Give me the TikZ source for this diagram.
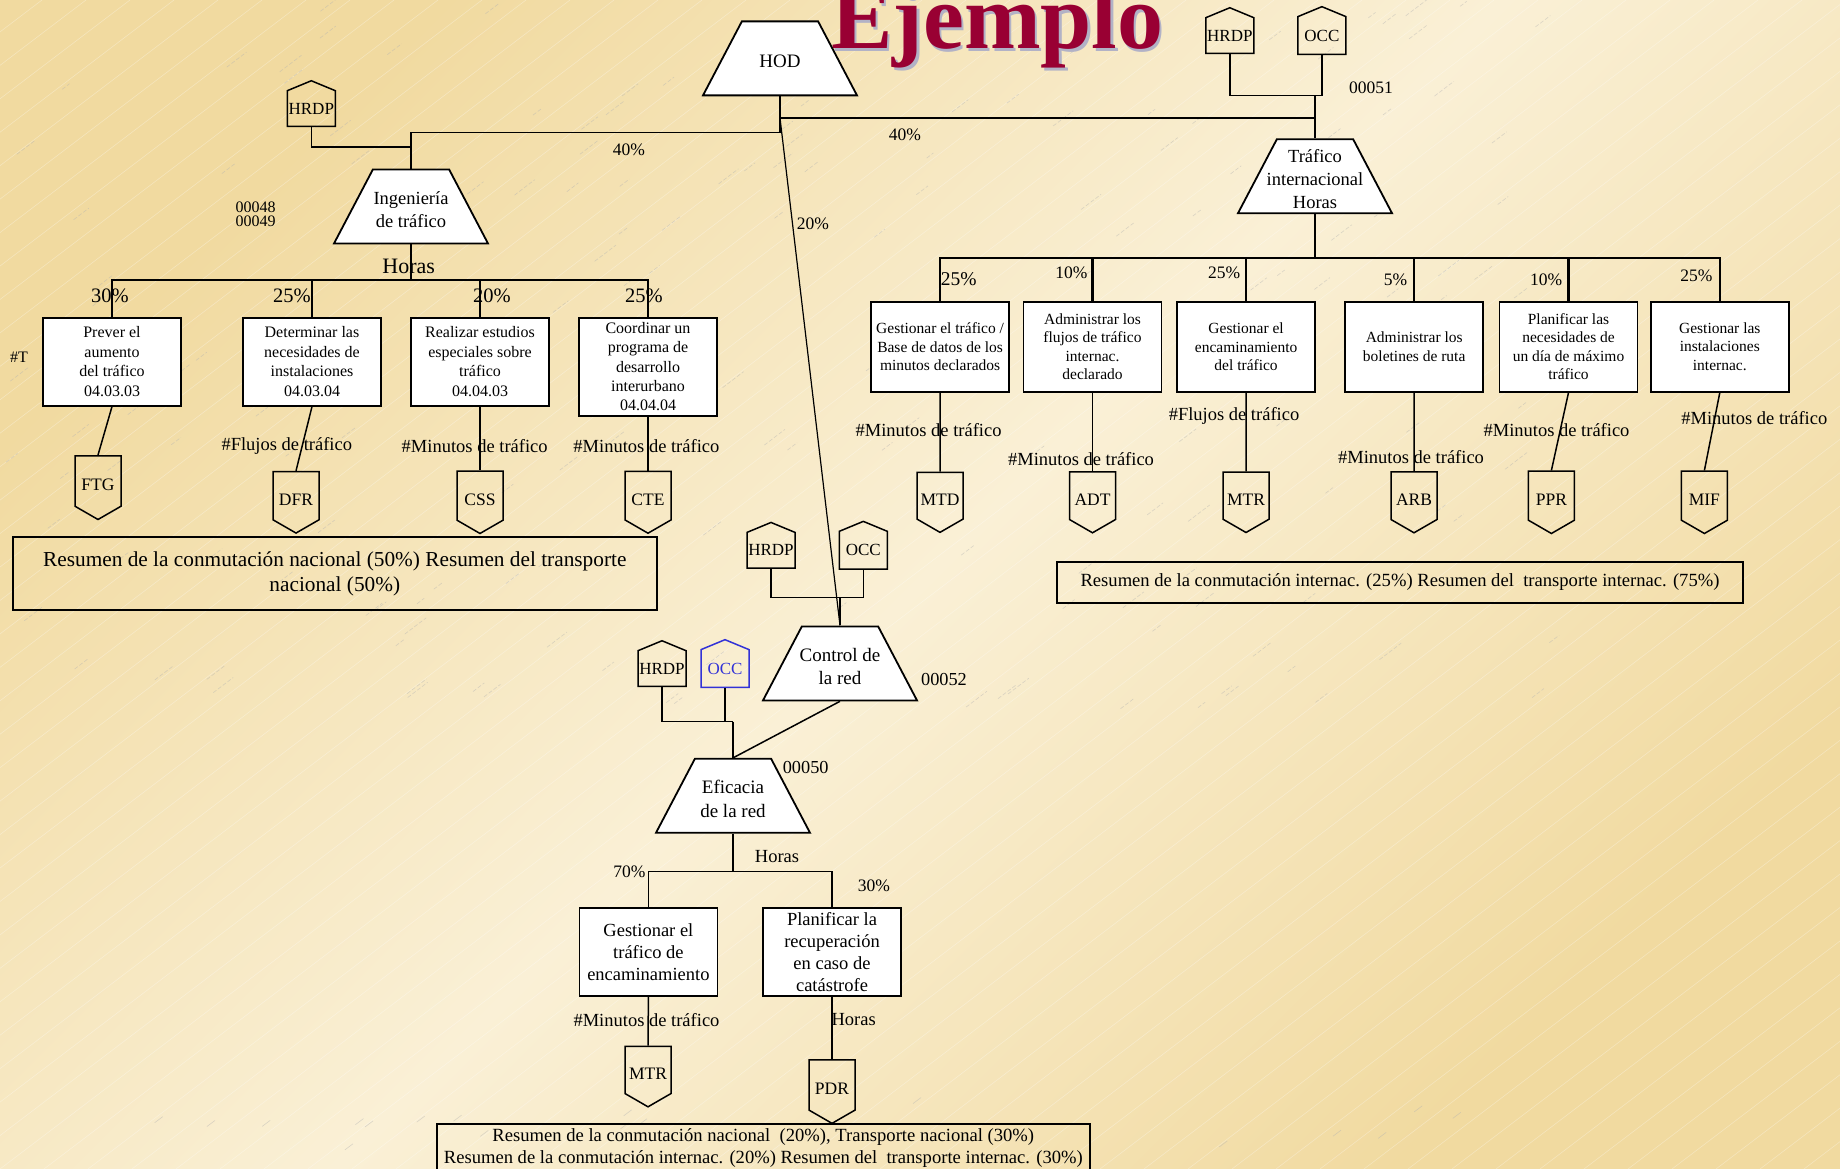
\documentclass[tikz,border=0pt]{standalone}
\usepackage{fontspec}
\setmainfont{Liberation Serif}
\usetikzlibrary{shapes.geometric,shapes.symbols}

\definecolor{fondoclaro}{RGB}{250,240,214}
\definecolor{fondooscuro}{RGB}{241,218,160}
\definecolor{rojotitulo}{RGB}{153,0,51}
\definecolor{sombratitulo}{RGB}{178,178,198}
\definecolor{azulocc}{RGB}{50,50,215}

\pgfdeclarehorizontalshading{fondodiag}{100bp}{color(0bp)=(fondooscuro); color(25bp)=(fondooscuro); color(50bp)=(fondoclaro); color(75bp)=(fondooscuro); color(100bp)=(fondooscuro)}

\newcommand{\tam}[2]{\fontsize{#1}{#2}\selectfont}

\begin{document}
\begin{tikzpicture}[x=1pt, y=-1pt,
    every node/.style={inner sep=0pt},
    linea/.style={line width=1.5pt},
    bus/.style={line width=2.2pt},
    borde/.style={draw, line width=1.8pt},
    caja/.style={borde, fill=white, align=center, minimum width=138pt,
      minimum height=88pt, font=\tam{16}{19.5}},
    cajad/.style={caja, minimum height=90pt, font=\tam{15.5}{18.6}},
    cajab/.style={caja, font=\tam{18.5}{22}},
    trap/.style={trapezium, borde, fill=white, inner sep=2pt, trapezium left angle=63,
      trapezium right angle=63, trapezium stretches=true, minimum width=154pt,
      minimum height=74pt},
    trapt/.style={align=center, inner sep=0pt, font=\tam{18.5}{22.5}, yshift=-3pt},
    etiq/.style={signal, signal to=south, signal from=nowhere,
      signal pointer angle=120, draw, line width=1.5pt, minimum width=46pt,
      minimum height=58pt, text height=19pt, text depth=0pt, font=\tam{17.5}{20}},
    casa/.style={signal, signal to=north, signal from=nowhere,
      signal pointer angle=135, draw, line width=1.5pt, minimum width=48pt,
      minimum height=45pt, font=\tam{17}{20}},
    pct/.style={font=\tam{17.5}{20}},
    pctg/.style={font=\tam{20.5}{24}},
    medida/.style={font=\tam{18.5}{22}},
    codigo/.style={font=\tam{17.5}{20}},
    resumen/.style={borde, align=center, font=\tam{18.6}{21.7}}
  ]
    \useasboundingbox (0,0) rectangle (1840,1169);

    % Fondo
    \shade[shading=fondodiag, shading angle=-45] (0,0) rectangle (1840,1169);
    \foreach \k in {-35,...,42}
        \draw[white, opacity=0.3, line width=0.6pt] (\k*44,1169) -- ++(1538,-1169);
    \pgfmathsetseed{12}
    \foreach \i in {1,...,170}{
        \pgfmathsetmacro{\sx}{rnd*1560}
        \pgfmathsetmacro{\sy}{rnd*720}
        \pgfmathsetmacro{\sl}{6+rnd*16}
        \draw[black!30, opacity=0.45, line width=0.6pt, dash pattern=on 4pt off 2pt] (\sx,\sy) -- ++(\sl,-0.76*\sl);
    }
    \foreach \i in {1,...,18}{
        \pgfmathsetmacro{\sx}{130+rnd*1370}
        \pgfmathsetmacro{\sy}{1100+rnd*50}
        \draw[black!30, opacity=0.45, line width=0.6pt] (\sx,\sy) -- ++(8,-6);
    }

    % Titulo
    \node[font=\bfseries\tam{92}{92}, text=sombratitulo, anchor=base west] (sombra) at (833.5,51.5) {Ejemplo};
    \node[font=\bfseries\tam{92}{92}, text=rojotitulo, anchor=base west] (titulo) at (831,49) {Ejemplo};

    % Nivel superior
    \node[trap, label={[trapt, font=\tam{19}{22}]center:HOD}] (hod) at (780,58.4) {};
    \node[casa] (hrdpA) at (311.3,108.5) {HRDP};
    \node[casa] (hrdpB) at (1229.8,35.5) {HRDP};
    \node[casa] (occB) at (1321.9,35.5) {OCC};
    \node[codigo] (cod51) at (1371,88) {00051};

    % Ingenieria de trafico
    \node[trap, label={[trapt]center:Ingeniería\\de tráfico}] (ing) at (411,206.5) {};
    \node[codigo, font=\tam{16}{14}, align=center] (cod48) at (255.5,214.7) {00048\\00049};
    \draw[linea] (hod.south) -- ++(0,36) -| (ing.north);
    \draw[linea] (hrdpA.south) |- (ing.north |- 0,147);
    \node[pct] (p40a) at (629,150) {40\%};

    % Trafico internacional
    \node[trap, label={[trapt, font=\tam{18.5}{23}]center:Tráfico\\internacional\\Horas}] (traf) at (1315,176.2) {};
    \coordinate (jT) at (traf.north |- 0,95.7);
    \draw[linea] (hrdpB.south) |- (jT) -| (occB.south);
    \draw[linea] (jT) -- (traf.north);
    \draw[linea] (hod.south) ++(0,21.6) -| (traf.north);
    \node[pct] (p40b) at (905,135) {40\%};

    % Control de la red
    \node[trap, label={[trapt, font=\tam{19}{22.5}]center:Control de\\la red}] (ctl) at (840,663.4) {};
    \draw[line width=1.2pt] (hod.south) ++(0,21.6) -- (ctl.north);
    \node[pct] (p20) at (813,224) {20\%};
    \node[casa] (hrdpC) at (771,550.2) {HRDP};
    \node[casa] (occC) at (863.3,550.2) {OCC};
    \coordinate (jC) at (ctl.north |- 0,597.7);
    \draw[linea] (hrdpC.south) |- (jC) -| (occC.south);
    \draw[linea] (jC) -- (ctl.north);
    \node[codigo, font=\tam{18.3}{20}] (cod52) at (944,679.3) {00052};

    % Hijos de Ingenieria
    \draw[linea] (ing.south) -- ++(0,35.6) coordinate (busI);
    \node[medida, font=\tam{22}{24}] (horasI) at (408.7,266.7) {Horas};
    \node[caja] (prever) at (112,361.7) {Prever el\\aumento\\del tráfico\\04.03.03};
    \node[caja] (determinar) at (312,361.7) {Determinar las\\necesidades de\\instalaciones\\04.03.04};
    \node[caja] (realizar) at (480,361.7) {Realizar estudios\\especiales sobre\\tráfico\\04.04.03};
    \node[caja, minimum height=98pt, font=\tam{16}{19.4}] (coordinar) at (648,366.7) {Coordinar un\\programa de\\desarrollo\\interurbano\\04.04.04};
    \foreach \c in {prever,determinar,realizar,coordinar}
        \draw[linea] (busI) -| (\c.north);
    \node[pctg] (pI1) at (110,296) {30\%};
    \node[pctg] (pI2) at (292,296) {25\%};
    \node[pctg] (pI3) at (492,296) {20\%};
    \node[pctg] (pI4) at (644,296) {25\%};
    \node[font=\tam{16}{18}] (almT) at (19,357.7) {\#T};

    % Etiquetas de Ingenieria
    \node[etiq, minimum height=60pt] (ftg) at (98,481) {FTG};
    \node[etiq] (dfr) at (296,495.7) {DFR};
    \node[etiq] (css) at (480,495.7) {CSS};
    \node[etiq] (cte) at (648,495.7) {CTE};
    \draw[linea] (prever.south) -- (ftg.north);
    \draw[linea] (determinar.south) -- (dfr.north);
    \draw[linea] (realizar.south) -- (css.north);
    \draw[linea] (coordinar.south) -- (cte.north);
    \node[medida] (mDfr) at (286.8,445.7) {\#Flujos de tráfico};
    \node[medida] (mCss) at (474.7,445.7) {\#Minutos de tráfico};
    \node[medida] (mCte) at (646.4,445.7) {\#Minutos de tráfico};
    \node[resumen, font=\tam{21.3}{25.6}, minimum width=644pt, minimum height=72.7pt] (resN) at (334.8,573.7)
        {Resumen de la conmutación nacional (50\%) Resumen del transporte\\nacional (50\%)};

    % Hijos de Trafico internacional
    \draw[bus] (traf.south) -- ++(0,44) coordinate (busT);
    \node[cajad] (gestTraf) at (940.1,346.7) {Gestionar el tráfico /\\Base de datos de los\\minutos declarados};
    \node[cajad] (adminFlujos) at (1092.5,346.7) {Administrar los\\flujos de tráfico\\internac.\\declarado};
    \node[cajad] (gestEnc) at (1246.1,346.7) {Gestionar el\\encaminamiento\\del tráfico};
    \node[cajad] (adminBol) at (1414.2,346.7) {Administrar los\\boletines de ruta};
    \node[cajad] (planif) at (1568.5,346.7) {Planificar las\\necesidades de\\un día de máximo\\tráfico};
    \node[cajad] (gestInst) at (1719.8,346.7) {Gestionar las\\instalaciones\\internac.};
    \foreach \c in {gestTraf,adminFlujos,gestEnc,adminBol,planif,gestInst}
        \draw[bus] (busT) -| (\c.north);
    \node[pctg, font=\tam{19.5}{22}] (pT1) at (958.8,279.3) {25\%};
    \node[pct] (pT2) at (1071.5,272.3) {10\%};
    \node[pct] (pT3) at (1224.2,272.3) {25\%};
    \node[pct] (pT4) at (1395.5,280) {5\%};
    \node[pct] (pT5) at (1546.2,280) {10\%};
    \node[pct] (pT6) at (1696.3,275.7) {25\%};

    % Etiquetas de Trafico internacional
    \node[etiq] (mtd) at (940,495.7) {MTD};
    \node[etiq] (adt) at (1092.5,495.7) {ADT};
    \node[etiq] (mtrI) at (1246,495.7) {MTR};
    \node[etiq] (arb) at (1414,495.7) {ARB};
    \node[etiq] (ppr) at (1551.4,495.7) {PPR};
    \node[etiq] (mif) at (1704.4,495.7) {MIF};
    \draw[linea] (gestTraf.south) -- (mtd.north);
    \draw[linea] (adminFlujos.south) -- (adt.north);
    \draw[linea] (gestEnc.south) -- (mtrI.north);
    \draw[linea] (adminBol.south) -- (arb.north);
    \draw[linea] (planif.south) -- (ppr.north);
    \draw[linea] (gestInst.south) -- (mif.north);
    \node[medida] (mMtd) at (928.6,430) {\#Minutos de tráfico};
    \node[medida] (mAdt) at (1081,459) {\#Minutos de tráfico};
    \node[medida] (mMtrI) at (1234,415.7) {\#Flujos de tráfico};
    \node[medida] (mArb) at (1411,457.3) {\#Minutos de tráfico};
    \node[medida] (mPpr) at (1556.5,430) {\#Minutos de tráfico};
    \node[medida] (mMif) at (1754.3,418.3) {\#Minutos de tráfico};
    \node[resumen, minimum width=686.6pt, minimum height=41.6pt] (resI) at (1400,582.5)
        {Resumen de la conmutación internac. (25\%) Resumen del~~transporte internac. (75\%)};

    % Eficacia de la red
    \node[trap, label={[trapt, font=\tam{19}{24}]center:Eficacia\\de la red}] (efi) at (733,795.8) {};
    \draw[linea] (ctl.south) -- (efi.north);
    \node[casa] (hrdpD) at (662,668.5) {HRDP};
    \node[casa, draw=azulocc, text=azulocc] (occD) at (725,668.5) {OCC};
    \coordinate (jE) at (efi.north |- 0,721.7);
    \draw[linea] (hrdpD.south) |- (jE);
    \draw[linea] (occD.south) -- (occD.south |- jE);
    \draw[linea] (jE) -- (efi.north);
    \node[codigo, font=\tam{18.3}{20}] (cod50) at (805.7,767.3) {00050};

    % Hijos de Eficacia
    \draw[linea] (efi.south) -- ++(0,37.7) coordinate (busE);
    \node[medida] (horasE) at (777,856.7) {Horas};
    \node[cajab] (gestEncam) at (648.4,951.8) {Gestionar el\\tráfico de\\encaminamiento};
    \node[cajab] (planRec) at (832,951.8) {Planificar la\\recuperación\\en caso de\\catástrofe};
    \draw[linea] (busE) -| (gestEncam.north);
    \draw[linea] (busE) -| (planRec.north);
    \node[pct] (p70) at (629.4,871.7) {70\%};
    \node[pct] (p30) at (874,885.7) {30\%};
    \node[etiq] (mtrN) at (648,1070) {MTR};
    \node[etiq, minimum height=60pt] (pdr) at (832,1085) {PDR};
    \draw[linea] (gestEncam.south) -- (mtrN.north);
    \draw[linea] (planRec.south) -- (pdr.north);
    \node[medida] (mMtrN) at (646.5,1020) {\#Minutos de tráfico};
    \node[medida] (horasP) at (853.7,1020) {Horas};
    \node[resumen, minimum width=652.6pt, minimum height=48pt] (resT) at (763.3,1148)
        {Resumen de la conmutación nacional~~(20\%), Transporte nacional (30\%)\\
         Resumen de la conmutación internac. (20\%) Resumen del~~transporte internac. (30\%)};
\end{tikzpicture}
\end{document}
